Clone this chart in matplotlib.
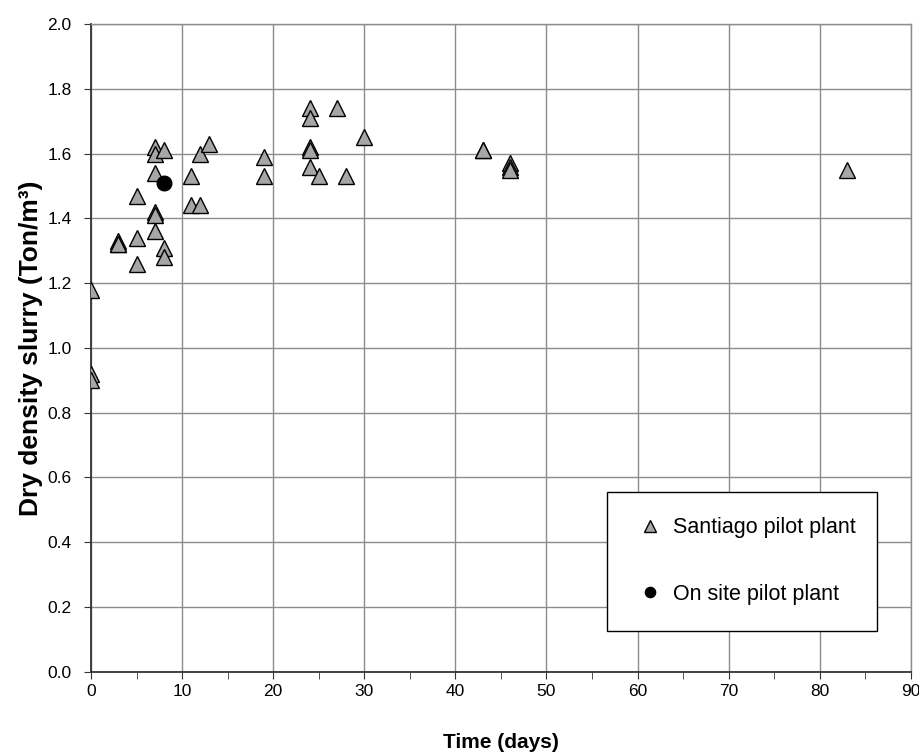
import matplotlib.pyplot as plt
import numpy as np

# Dry density of slurry vs time
santiago_days = [0, 0, 0,
                 3, 3, 3,
                 5, 5, 5,
                 7, 7, 7, 7, 7, 7,
                 8, 8, 8,
                 11, 11,
                 12, 12,
                 13,
                 19, 19,
                 24, 24, 24, 24, 24,
                 25, 27, 28, 30,
                 43, 43,
                 46, 46, 46,
                 83]
santiago_density = [1.18, 0.92, 0.90,
                    1.33, 1.32, 1.32,
                    1.47, 1.34, 1.26,
                    1.62, 1.60, 1.54, 1.42, 1.41, 1.36,
                    1.61, 1.31, 1.28,
                    1.53, 1.44,
                    1.60, 1.44,
                    1.63,
                    1.59, 1.53,
                    1.74, 1.71, 1.62, 1.61, 1.56,
                    1.53, 1.74, 1.53, 1.65,
                    1.61, 1.61,
                    1.57, 1.56, 1.55,
                    1.55]

onsite_days = [8]
onsite_density = [1.51]

plt.rcParams["font.family"] = ["Liberation Sans", "DejaVu Sans"]

fig = plt.figure(figsize=(9.2, 7.53), dpi=100)
ax = fig.add_axes([0.099, 0.108, 0.891, 0.860])

ax.plot(santiago_days, santiago_density, linestyle="none", marker="^",
        markersize=11.5, markerfacecolor="#a6a6a6", markeredgecolor="black",
        markeredgewidth=1.0, label="Santiago pilot plant", zorder=3)
ax.plot(onsite_days, onsite_density, linestyle="none", marker="o",
        markersize=10.5, markerfacecolor="black", markeredgecolor="black",
        label="On site pilot plant", zorder=4)

ax.set_xlim(0, 90)
ax.set_ylim(0, 2.0)
ax.set_xticks(np.arange(0, 91, 10))
ax.set_xticks(np.arange(5, 90, 10), minor=True)
ax.set_yticks(np.arange(0, 2.01, 0.2))
ax.set_yticklabels([f"{v:.1f}" for v in np.arange(0, 2.01, 0.2)])

ax.grid(True, which="major", color="#8c8c8c", linewidth=1.0)
ax.set_axisbelow(True)
for side in ["left", "bottom"]:
    ax.spines[side].set_color("#333333")
    ax.spines[side].set_linewidth(1.3)
for side in ["top", "right"]:
    ax.spines[side].set_color("#8c8c8c")
    ax.spines[side].set_linewidth(1.0)

ax.tick_params(axis="both", which="both", direction="out", length=5,
               color="#333333", labelsize=12.5)
ax.tick_params(axis="x", pad=4)
ax.tick_params(axis="y", pad=9)

ax.set_xlabel("Time (days)", fontsize=15, fontweight="bold", labelpad=24)
ax.set_ylabel("Dry density slurry (Ton/m³)", fontsize=19, fontweight="bold",
              labelpad=3)

leg = ax.legend(loc="upper left", bbox_to_anchor=(0.629, 0.278, 0.330, 0.0),
                mode="expand", prop={"size": 15.5}, frameon=True, fancybox=False,
                borderpad=1.2, labelspacing=2.1, handlelength=1.6,
                handletextpad=0.3, markerscale=0.7, borderaxespad=0)
leg.get_frame().set_edgecolor("black")
leg.get_frame().set_linewidth(1.0)
leg.get_frame().set_alpha(1)

fig.savefig("out.png", dpi=100)
plt.close(fig)
